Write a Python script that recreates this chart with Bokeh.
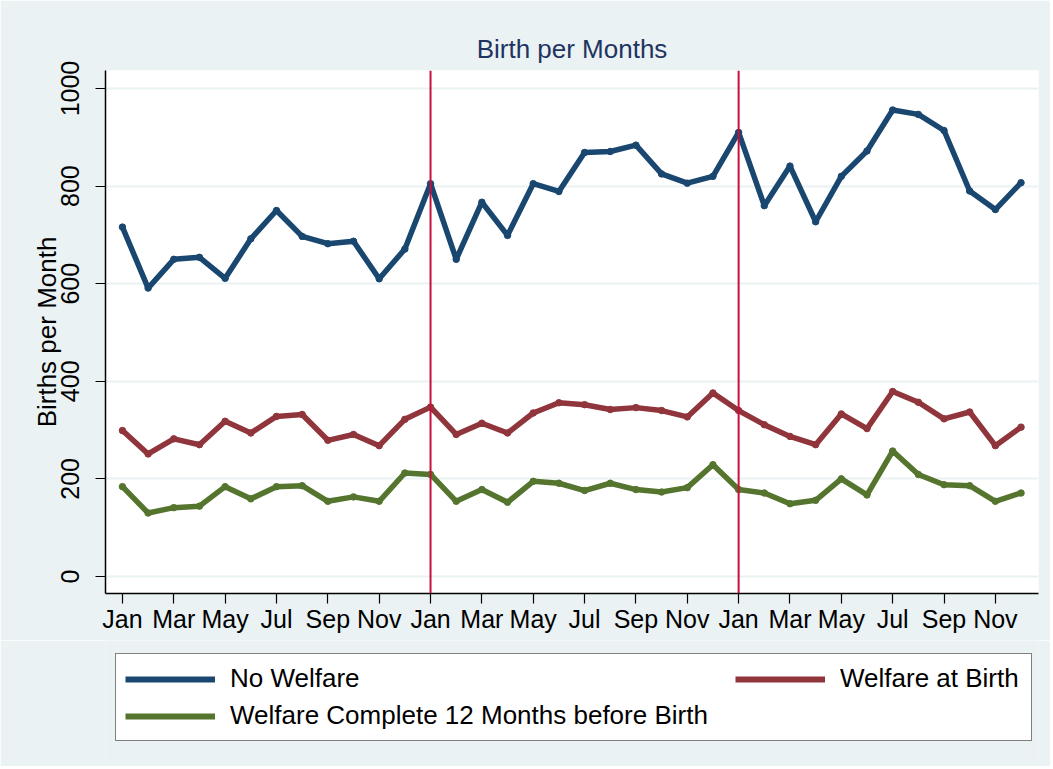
from bokeh.plotting import figure
from bokeh.layouts import column
from bokeh.models import (Range1d, FixedTicker, Span, Legend, LegendItem)
from bokeh.embed import file_html
from bokeh.resources import INLINE

month_labels = ["Jan", "Feb", "Mar", "Apr", "May", "Jun",
                "Jul", "Aug", "Sep", "Oct", "Nov", "Dec"]
months = list(range(36))

no_welfare = [716, 591, 650, 654, 611, 692, 750, 697, 682, 687, 610, 671,
              805, 650, 767, 699, 805, 789, 869, 871, 884, 825, 806, 820,
              910, 760, 841, 727, 820, 872, 956, 947, 914, 790, 752, 807]
welfare_at_birth = [299, 251, 282, 270, 318, 294, 328, 332, 279, 291, 268, 322,
                    347, 291, 314, 294, 335, 356, 352, 342, 346, 340, 327, 376,
                    340, 311, 287, 270, 333, 303, 379, 357, 323, 337, 268, 306]
welfare_12m = [184, 130, 141, 144, 184, 159, 184, 186, 154, 163, 154, 212,
               209, 154, 178, 152, 195, 191, 176, 191, 178, 173, 182, 229,
               178, 171, 149, 156, 200, 167, 257, 209, 188, 186, 154, 171]

year_breaks = [12, 24]
y_ticks = [0, 200, 400, 600, 800, 1000]
x_ticks = list(range(0, 36, 2))

BG = "#EAF2F3"
FONT = "Liberation Sans"
W = 1050

p = figure(width=W, height=640, output_backend="svg", toolbar_location=None,
           x_range=Range1d(-0.66, 35.68), y_range=Range1d(-35, 1037),
           min_border_left=105, min_border_right=12, min_border_top=70,
           min_border_bottom=47, title="Birth per Months")
p.background_fill_color = "white"
p.border_fill_color = BG
p.outline_line_color = None

p.title.align = "center"
p.title.text_font = FONT
p.title.text_font_size = "26px"
p.title.text_font_style = "normal"
p.title.text_color = "#1F3461"
p.title.standoff = 14

# grid
p.xgrid.grid_line_color = None
p.ygrid.grid_line_color = BG
p.ygrid.grid_line_width = 2
p.ygrid.ticker = FixedTicker(ticks=y_ticks)

# axes
p.yaxis.ticker = FixedTicker(ticks=y_ticks)
p.yaxis.major_label_orientation = "vertical"
p.yaxis.axis_label = "Births per Month"
p.yaxis.axis_label_text_font = FONT
p.yaxis.axis_label_text_font_size = "26px"
p.yaxis.axis_label_text_font_style = "normal"
p.yaxis.axis_label_text_color = "black"
p.yaxis.axis_label_standoff = -3
p.xaxis.ticker = FixedTicker(ticks=x_ticks)
p.xaxis.major_label_overrides = {m: month_labels[m % 12] for m in x_ticks}
for ax in (p.xaxis, p.yaxis):
    ax.axis_line_color = "black"
    ax.axis_line_width = 1.5
    ax.major_tick_line_color = "black"
    ax.major_tick_line_width = 1.2
    ax.major_tick_out = 10
    ax.major_tick_in = 0
    ax.minor_tick_line_color = None
    ax.major_label_text_font = FONT
    ax.major_label_text_font_size = "25px"
    ax.major_label_text_color = "black"
p.xaxis.major_label_standoff = 1
p.yaxis.major_label_standoff = 16

# year separators
for b in year_breaks:
    p.add_layout(Span(location=b, dimension="height", line_color="#C8103C",
                      line_width=2))

series = [
    ("No Welfare", no_welfare, "#1A476F"),
    ("Welfare at Birth", welfare_at_birth, "#90353B"),
    ("Welfare Complete 12 Months before Birth", welfare_12m, "#55752F"),
]
for name, vals, col in series:
    p.line(months, vals, line_color=col, line_width=5.5, line_join="round")
    p.scatter(months, vals, size=6.5, color=col)

# legend panel below the plot (same side borders as the plot)
lp = figure(width=W, height=126, output_backend="svg", toolbar_location=None,
            x_range=Range1d(0, 1), y_range=Range1d(-2, -1),
            x_axis_type=None, y_axis_type=None,
            min_border_left=105, min_border_right=12,
            min_border_top=0, min_border_bottom=0)
lp.background_fill_color = BG
lp.border_fill_color = BG
lp.outline_line_color = None
lp.xgrid.visible = False
lp.ygrid.visible = False

keys = {}
for name, vals, col in series:
    # real series drawn off-range: only used as legend keys
    keys[name] = lp.line(months, vals, line_color=col, line_width=6)

common = dict(label_text_font=FONT, label_text_font_size="26px",
              label_text_color="black",
              glyph_width=90, glyph_height=28, label_height=28,
              label_standoff=15, spacing=6, margin=0)
leg_a = Legend(items=[LegendItem(label="No Welfare", renderers=[keys["No Welfare"]]),
                      LegendItem(label="Welfare Complete 12 Months before Birth",
                                 renderers=[keys["Welfare Complete 12 Months before Birth"]])],
               location=(10, 25), padding=9, label_width=792,
               border_line_color="black", border_line_width=1.5,
               background_fill_color="white", background_fill_alpha=1.0,
               **common)
leg_b = Legend(items=[LegendItem(label="Welfare at Birth",
                                 renderers=[keys["Welfare at Birth"]])],
               location=(630, 72), padding=0,
               border_line_alpha=0, background_fill_alpha=0, **common)
lp.add_layout(leg_a, "center")
lp.add_layout(leg_b, "center")

open("out.html", "w").write(file_html(column(p, lp, spacing=0), INLINE))
